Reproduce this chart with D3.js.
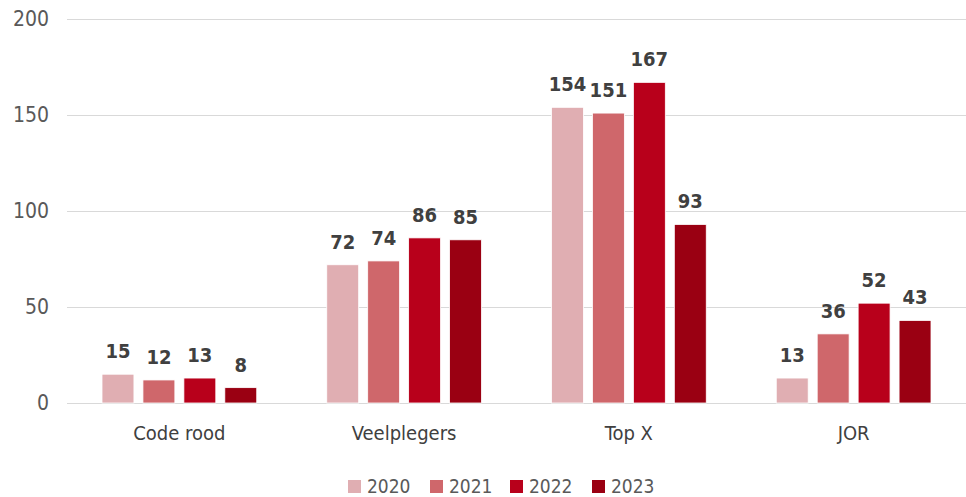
<!DOCTYPE html>
<html>
<head>
<meta charset="utf-8">
<script src="https://cdn.jsdelivr.net/npm/d3@7"></script>
<style>
  body { margin: 0; background: #fff; }
  text { font-family: "DejaVu Sans Condensed", "DejaVu Sans", sans-serif; font-stretch: condensed; }
</style>
</head>
<body>
<svg id="chart" width="966" height="497"></svg>
<script>
const categories = ["Code rood", "Veelplegers", "Top X", "JOR"];
const years = ["2020", "2021", "2022", "2023"];
const values2020 = [15, 72, 154, 13];
const values2021 = [12, 74, 151, 36];
const values2022 = [13, 86, 167, 52];
const values2023 = [8, 85, 93, 43];
const yTicks = [0, 50, 100, 150, 200];
const colors = ["#e0aeb2", "#cf676b", "#b8001b", "#9a0012"];

const series = [values2020, values2021, values2022, values2023];
const data = categories.map((c, i) => ({
    cat: c,
    vals: years.map((y, j) => ({ year: y, value: series[j][i] }))
}));

const svg = d3.select("#chart");
const margin = { top: 19, right: 0, bottom: 94, left: 67 };
const width = +svg.attr("width") - margin.left - margin.right;
const height = +svg.attr("height") - margin.top - margin.bottom;

const g = svg.append("g")
    .attr("transform", `translate(${margin.left},${margin.top})`);

// Scales
const x = d3.scaleBand()
    .domain(categories)
    .range([0, width]);

const x1 = d3.scaleBand()
    .domain(years)
    .range([35, x.bandwidth() - 35])
    .paddingInner(0.22);

const y = d3.scaleLinear()
    .domain([0, 200])
    .range([height, 0]);

// Gridlines
g.append("g")
    .selectAll("line")
    .data(yTicks)
    .enter()
    .append("line")
    .attr("x1", 0)
    .attr("x2", width)
    .attr("y1", d => y(d) + 0.5)
    .attr("y2", d => y(d) + 0.5)
    .attr("stroke", "#d9d9d9")
    .attr("stroke-width", 1);

// Y axis labels
const yAxis = g.append("g")
    .call(d3.axisLeft(y).tickValues(yTicks).tickSize(0).tickPadding(18));
yAxis.select(".domain").remove();
yAxis.selectAll("text")
    .attr("fill", "#595959")
    .style("font-size", "21px")
    .style("font-family", null);

// X axis labels
const xAxis = g.append("g")
    .attr("transform", `translate(0,${height})`)
    .call(d3.axisBottom(x).tickSize(0).tickPadding(23));
xAxis.select(".domain").remove();
xAxis.selectAll("text")
    .attr("fill", "#404040")
    .style("font-size", "20px")
    .style("font-family", null);

// Bars
const groups = g.selectAll(".group")
    .data(data)
    .enter()
    .append("g")
    .attr("class", "group")
    .attr("transform", d => `translate(${x(d.cat)},0)`);

groups.selectAll("rect")
    .data(d => d.vals)
    .enter()
    .append("rect")
    .attr("x", d => x1(d.year))
    .attr("y", d => y(d.value))
    .attr("width", x1.bandwidth())
    .attr("height", d => y(0) - y(d.value))
    .attr("fill", (d, i) => colors[i])
    .attr("stroke", "#fff")
    .attr("stroke-width", 0.8);

// Value labels
groups.selectAll(".val")
    .data(d => d.vals)
    .enter()
    .append("text")
    .attr("class", "val")
    .attr("x", d => x1(d.year) + x1.bandwidth() / 2)
    .attr("y", d => y(d.value) - 16)
    .attr("text-anchor", "middle")
    .attr("fill", "#404040")
    .style("font-size", "20px")
    .style("font-weight", "bold")
    .text(d => d.value);

// Legend
const legendX = [348, 430, 510, 592];
const legend = svg.append("g");
years.forEach((yr, i) => {
    legend.append("rect")
        .attr("x", legendX[i])
        .attr("y", 480)
        .attr("width", 13)
        .attr("height", 13)
        .attr("fill", colors[i]);
    legend.append("text")
        .attr("x", legendX[i] + 19)
        .attr("y", 493)
        .attr("fill", "#595959")
        .style("font-size", "19px")
        .text(yr);
});
</script>
</body>
</html>
